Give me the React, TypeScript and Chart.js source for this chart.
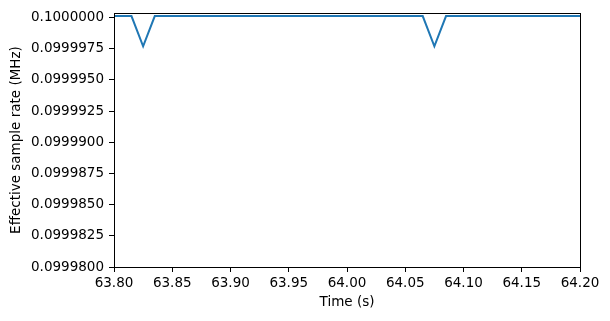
import React, { useEffect, useRef } from "react";
import { Chart, registerables } from "chart.js";

Chart.register(...registerables);

const TIME = [63.795, 63.815, 63.825, 63.835, 64.065, 64.075, 64.085, 64.205];
const RATE = [0.10000012, 0.10000012, 0.0999977, 0.10000012, 0.10000012, 0.0999977, 0.10000012, 0.10000012];
const X_TICKS = [63.8, 63.85, 63.9, 63.95, 64.0, 64.05, 64.1, 64.15, 64.2];
const Y_TICKS = [0.09998, 0.0999825, 0.099985, 0.0999875, 0.09999, 0.0999925, 0.099995, 0.0999975, 0.1];

const FONT = "'DejaVu Sans', sans-serif";

const frame = {
  id: "frame",
  afterDraw(chart: any) {
    const { ctx, chartArea } = chart;
    ctx.save();
    ctx.strokeStyle = "#000";
    ctx.lineWidth = 1;
    ctx.strokeRect(
      Math.round(chartArea.left) + 0.5,
      Math.round(chartArea.top) + 0.5,
      Math.round(chartArea.right - chartArea.left),
      Math.round(chartArea.bottom - chartArea.top)
    );
    ctx.restore();
  },
};

export default function App() {
  const ref = useRef<HTMLCanvasElement>(null);
  useEffect(() => {
    const chart = new Chart(ref.current!, {
      type: "line",
      data: {
        datasets: [
          {
            data: TIME.map((t, i) => ({ x: t, y: RATE[i] })),
            borderColor: "#1f77b4",
            borderWidth: 2,
            pointRadius: 0,
            fill: false,
            tension: 0,
          },
        ],
      },
      plugins: [frame],
      options: {
        animation: false,
        responsive: false,
        layout: { padding: { top: 13, right: 30, left: 0, bottom: 0 } },
        plugins: { legend: { display: false }, tooltip: { enabled: false } },
        scales: {
          x: {
            type: "linear",
            min: 63.8,
            max: 64.2,
            afterBuildTicks: (s: any) => {
              s.ticks = X_TICKS.map((v) => ({ value: v }));
            },
            afterFit: (s: any) => {
              s.height = 54;
            },
            ticks: {
              color: "#000",
              font: { family: FONT, size: 13.5 },
              padding: 3,
              maxRotation: 0,
              autoSkip: false,
              callback: (v: any) => Number(v).toFixed(2),
            },
            grid: {
              drawOnChartArea: false,
              drawTicks: true,
              tickLength: 5,
              tickColor: "#000",
            },
            border: { display: true, color: "#000" },
            title: {
              display: true,
              text: "Time (s)",
              color: "#000",
              font: { family: FONT, size: 13.5 },
              padding: { top: 0, bottom: 10 },
            },
          },
          y: {
            type: "linear",
            min: 0.09998,
            max: 0.10000036,
            afterBuildTicks: (s: any) => {
              s.ticks = Y_TICKS.map((v) => ({ value: v }));
            },
            afterFit: (s: any) => {
              s.width = 114;
            },
            ticks: {
              color: "#000",
              font: { family: FONT, size: 13.5 },
              padding: 5,
              autoSkip: false,
              callback: (v: any) => Number(v).toFixed(7),
            },
            grid: {
              drawOnChartArea: false,
              drawTicks: true,
              tickLength: 5,
              tickColor: "#000",
            },
            border: { display: true, color: "#000" },
            title: {
              display: true,
              text: "Effective sample rate (MHz)",
              color: "#000",
              font: { family: FONT, size: 13.5 },
              padding: { top: 8, bottom: 0 },
            },
          },
        },
      },
    });
    return () => chart.destroy();
  }, []);
  return (
    <div style={{ position: "absolute", left: 0, top: 0, width: 610, height: 321, background: "#fff" }}>
      <canvas ref={ref} width={610} height={321} style={{ width: 610, height: 321 }} />
    </div>
  );
}
